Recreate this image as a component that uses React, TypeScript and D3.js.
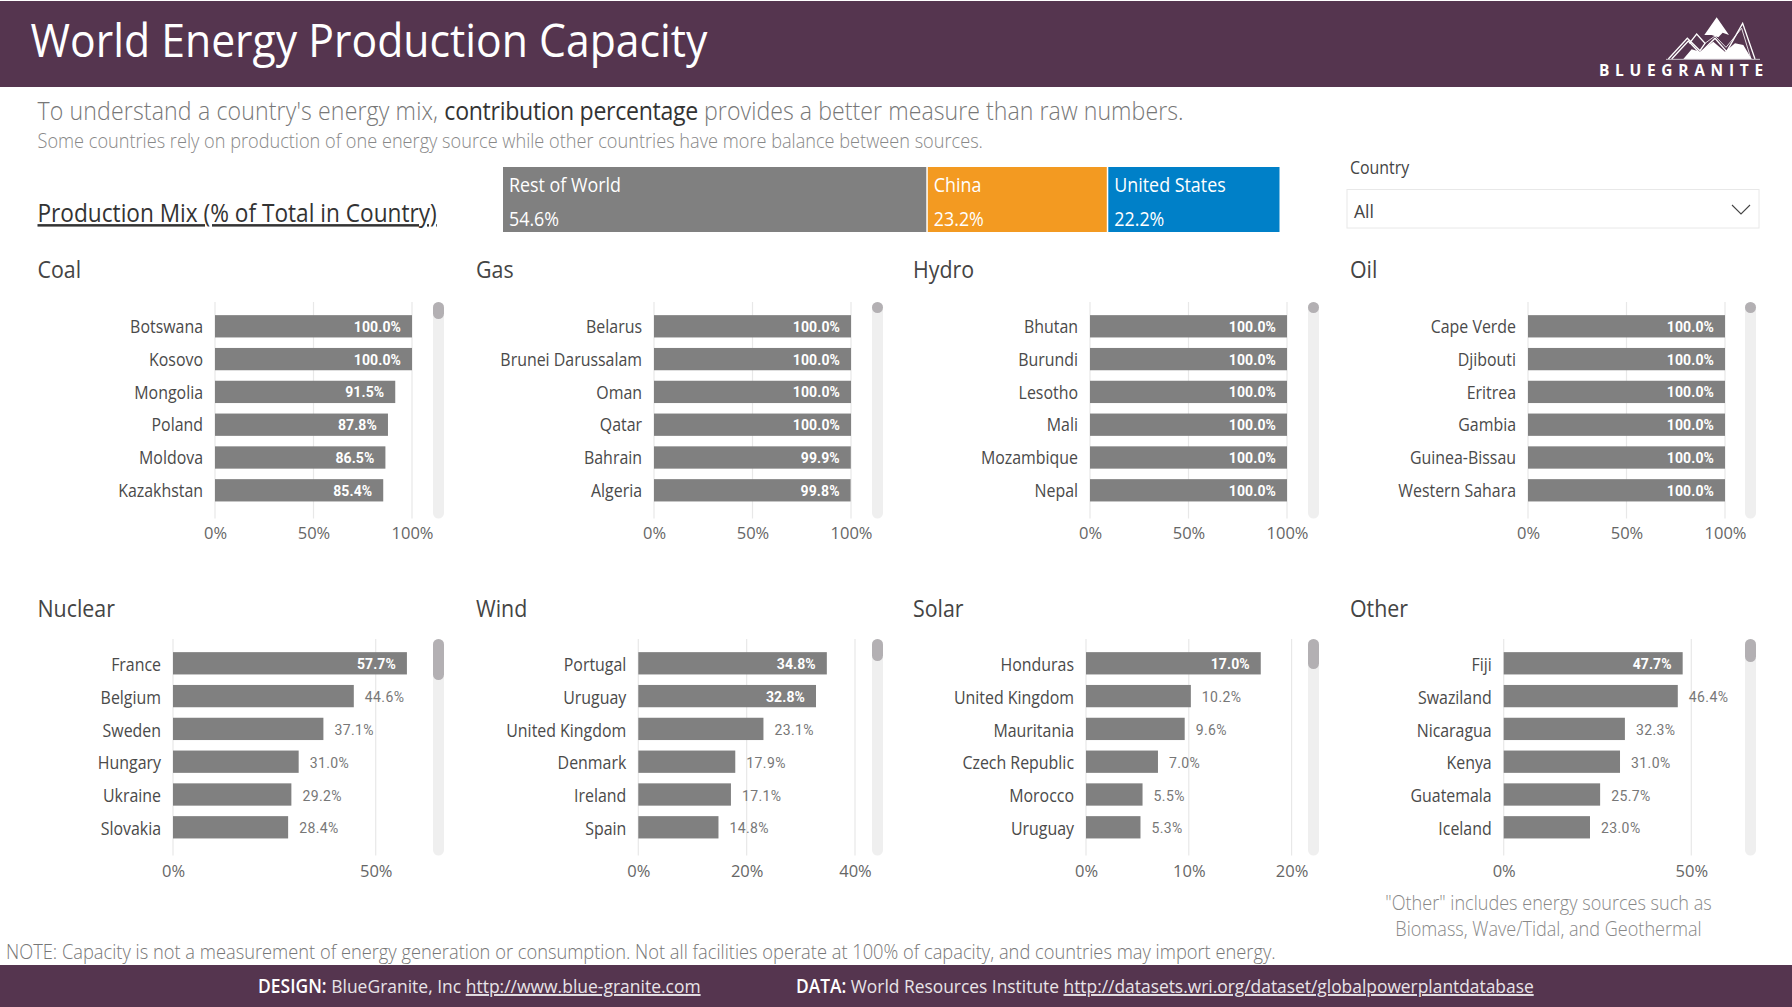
import React, { useRef, useEffect } from 'react';
import * as d3 from 'd3';

const coalCountries = ['Botswana', 'Kosovo', 'Mongolia', 'Poland', 'Moldova', 'Kazakhstan'];
const coalValues = [100, 100, 91.5, 87.8, 86.5, 85.4];
const gasCountries = ['Belarus', 'Brunei Darussalam', 'Oman', 'Qatar', 'Bahrain', 'Algeria'];
const gasValues = [100, 100, 100, 100, 99.9, 99.8];
const hydroCountries = ['Bhutan', 'Burundi', 'Lesotho', 'Mali', 'Mozambique', 'Nepal'];
const hydroValues = [100, 100, 100, 100, 100, 100];
const oilCountries = ['Cape Verde', 'Djibouti', 'Eritrea', 'Gambia', 'Guinea-Bissau', 'Western Sahara'];
const oilValues = [100, 100, 100, 100, 100, 100];
const nuclearCountries = ['France', 'Belgium', 'Sweden', 'Hungary', 'Ukraine', 'Slovakia'];
const nuclearValues = [57.7, 44.6, 37.1, 31.0, 29.2, 28.4];
const windCountries = ['Portugal', 'Uruguay', 'United Kingdom', 'Denmark', 'Ireland', 'Spain'];
const windValues = [34.8, 32.8, 23.1, 17.9, 17.1, 14.8];
const solarCountries = ['Honduras', 'United Kingdom', 'Mauritania', 'Czech Republic', 'Morocco', 'Uruguay'];
const solarValues = [17.0, 10.2, 9.6, 7.0, 5.5, 5.3];
const otherCountries = ['Fiji', 'Swaziland', 'Nicaragua', 'Kenya', 'Guatemala', 'Iceland'];
const otherValues = [47.7, 46.4, 32.3, 31.0, 25.7, 23.0];

const shareNames = ['Rest of World', 'China', 'United States'];
const shareValues = [54.6, 23.2, 22.2];
const shareColors = ['#808080', '#F39A21', '#0080C8'];

const FONT = "'Open Sans', 'Noto Sans', sans-serif";
const BAND = '#55354F';

// Open Sans runs wider than the original's font, so text gets squeezed a bit
const Squeezed: React.FC<any> = ({ x, y, sx, children, ...rest }) => (
  <text transform={`translate(${x},${y}) scale(${sx},1)`} {...rest}>{children}</text>
);

interface PanelProps {
  title: string;
  titleX: number;
  countries: string[];
  values: number[];
  ticks: number[];
  x0: number;
  xTick: number; // pixel position of last tick
  top: number;
  scrollX: number;
  thumb: number;
  inside: number; // how many labels sit inside the bar
  textDy?: number;
}

const BarPanel: React.FC<PanelProps> = ({ title, titleX, countries, values, ticks, x0, xTick, top, scrollX, thumb, inside, textDy = 0 }) => {
  const ref = useRef<SVGGElement | null>(null);

  useEffect(() => {
    if (!ref.current) return;
    const g = d3.select(ref.current);
    g.selectAll('*').remove();

    const bottom = top + 216.5;
    const x = d3.scaleLinear().domain([0, ticks[ticks.length - 1]]).range([x0, xTick]);
    const y = d3.scaleBand<string>()
      .domain(countries.map((_, i) => String(i)))
      .range([top + 7.9, top + 7.9 + 6 * 32.8])
      .paddingInner(0.32)
      .paddingOuter(0.16);

    g.append('text')
      .attr('transform', `translate(${titleX},${top - 24 + textDy * 1.5}) scale(0.93,1)`)
      .attr('font-size', 23)
      .attr('fill', '#444')
      .text(title);

    // gridlines
    g.selectAll('line.grid')
      .data(ticks)
      .join('line')
      .attr('class', 'grid')
      .attr('x1', d => x(d)).attr('x2', d => x(d))
      .attr('y1', top).attr('y2', bottom)
      .attr('stroke', '#e8e8e8')
      .attr('stroke-width', 1.2);

    // scrollbar
    g.append('rect')
      .attr('x', scrollX).attr('y', top).attr('width', 11).attr('height', bottom - top)
      .attr('rx', 5.5).attr('fill', '#efefef');
    g.append('rect')
      .attr('x', scrollX).attr('y', top).attr('width', 11).attr('height', thumb)
      .attr('rx', 5.5).attr('fill', '#b3b0b3');

    // bars
    g.selectAll('rect.bar')
      .data(values)
      .join('rect')
      .attr('class', 'bar')
      .attr('x', x0)
      .attr('y', (_, i) => y(String(i)) as number)
      .attr('width', d => x(d) - x0)
      .attr('height', y.bandwidth())
      .attr('fill', '#808080');

    // value labels
    g.selectAll('text.val')
      .data(values)
      .join('text')
      .attr('class', 'val')
      .attr('x', (d, i) => (i < inside ? x(d) - 11 : x(d) + 11))
      .attr('y', (_, i) => (y(String(i)) as number) + y.bandwidth() / 2 + 5.5 + textDy / 2)
      .attr('text-anchor', (_, i) => (i < inside ? 'end' : 'start'))
      .attr('font-family', 'Roboto, sans-serif')
      .attr('font-size', 14)
      .attr('font-weight', (_, i) => (i < inside ? 700 : 400))
      .attr('letter-spacing', (_, i) => (i < inside ? 0.1 : 0.4))
      .attr('fill', (_, i) => (i < inside ? '#fff' : '#777'))
      .text(d => d.toFixed(1) + '%');

    // country labels
    const labelSx = 0.91;
    const yAxis = g.append('g')
      .attr('transform', `translate(${x0},${1 + textDy})`)
      .call(
        d3.axisLeft(y).tickSize(0).tickPadding(12).tickFormat((_, i) => countries[i])
      );
    yAxis.select('.domain').remove();
    yAxis.selectAll('text')
      .attr('x', -12 / labelSx)
      .attr('transform', `scale(${labelSx},1)`)
      .attr('font-family', FONT)
      .attr('font-size', 17.5)
      .attr('fill', '#4a4a4a');

    // value axis
    const xAxis = g.append('g')
      .attr('transform', `translate(0,${bottom + textDy})`)
      .call(
        d3.axisBottom(x).tickValues(ticks).tickSize(0).tickPadding(9).tickFormat(d => `${d}%`)
      );
    xAxis.select('.domain').remove();
    xAxis.selectAll('text').attr('font-family', FONT).attr('font-size', 16.5).attr('fill', '#666');
  }, []);

  return <g ref={ref} fontFamily={FONT} />;
};

const ShareBar: React.FC = () => {
  const ref = useRef<SVGGElement | null>(null);

  useEffect(() => {
    if (!ref.current) return;
    const g = d3.select(ref.current);
    g.selectAll('*').remove();
    const x = d3.scaleLinear().domain([0, d3.sum(shareValues)]).range([503, 1281]);
    const starts = d3.cumsum([0, ...shareValues]);
    const cells = g.selectAll('g').data(shareValues).join('g');
    cells.append('rect')
      .attr('x', (_, i) => x(starts[i]))
      .attr('y', 167)
      .attr('width', (d, i) => x(starts[i] + d) - x(starts[i]) - 1.5)
      .attr('height', 65)
      .attr('fill', (_, i) => shareColors[i]);
    cells.append('text')
      .attr('transform', (_, i) => `translate(${x(starts[i]) + 6},192) scale(0.916,1)`)
      .attr('font-size', 19.5)
      .attr('fill', '#fff')
      .text((_, i) => shareNames[i]);
    cells.append('text')
      .attr('transform', (_, i) => `translate(${x(starts[i]) + 6},226) scale(0.916,1)`)
      .attr('font-size', 19.5)
      .attr('fill', '#fff')
      .text(d => d.toFixed(1) + '%');
  }, []);

  return <g ref={ref} fontFamily={FONT} />;
};

export default function App() {
  return (
    <svg
      width={1792}
      height={1007}
      style={{ position: 'absolute', left: 0, top: 0, background: '#fff' }}
      fontFamily={FONT}
    >
      {/* header */}
      <rect x={0} y={1} width={1792} height={86} fill={BAND} />
      <Squeezed x={30.5} y={57} sx={0.95} fontSize={45} fill="#fff">World Energy Production Capacity</Squeezed>

      {/* logo */}
      <g transform="translate(1650,10) scale(0.3333)" stroke="#fff" strokeWidth={4} fill="none">
        <path d="M100 147 L125 118 L150 125 L190 95 L225 125 L255 100 L280 105 L305 147 Z" fill="#fff" stroke="none" />
        <path d="M163 75 L200 22 L237 75 L218 68 L205 82 L185 75 Z" fill="#fff" stroke="none" />
        <path d="M55 147 L112 85 L150 122 L165 100 L140 72 L118 100" />
        <path d="M65 147 L115 93 L150 130 L195 85 L230 125 L278 40 L315 147" />
        <path d="M165 100 L195 78 L228 112 L275 55 L303 147" strokeWidth={2.5} />
        <path d="M48 148 L330 148" stroke="#c8c0c8" strokeWidth={3} />
      </g>
      <text x={1599} y={76} fontSize={15.5} fontWeight={700} letterSpacing={5.7} fill="#fff">BLUEGRANITE</text>

      {/* intro */}
      <Squeezed x={37.5} y={120} sx={0.925} fontSize={25} fill="#777" fontWeight={300}>
        <tspan letterSpacing={0.135}>To understand a country's energy mix, </tspan>
        <tspan fill="#333" fontWeight={400} letterSpacing={-0.33}>contribution percentage</tspan>
        <tspan letterSpacing={0.05}> provides a better measure than raw numbers.</tspan>
      </Squeezed>
      <Squeezed x={37.5} y={148} sx={0.932} fontSize={19.5} fill="#888" fontWeight={300}>
        Some countries rely on production of one energy source while other countries have more balance between sources.
      </Squeezed>
      <Squeezed x={37.5} y={222} sx={0.906} fontSize={25} fill="#333" textDecoration="underline">Production Mix (% of Total in Country)</Squeezed>

      <ShareBar />

      {/* slicer */}
      <Squeezed x={1350} y={174} sx={0.91} fontSize={17.5} fill="#444">Country</Squeezed>
      <rect x={1347} y={189.5} width={412} height={38.5} fill="#fff" stroke="#e8e8e8" />
      <Squeezed x={1354} y={218} sx={0.95} fontSize={18.5} fill="#444">All</Squeezed>
      <path d="M1732 205 L1741 214 L1750 205" fill="none" stroke="#444" strokeWidth={1.1} />

      <BarPanel title="Coal" titleX={37.5} countries={coalCountries} values={coalValues} ticks={[0, 50, 100]} x0={215} xTick={412} top={302} scrollX={433} thumb={17} inside={6} />
      <BarPanel title="Gas" titleX={476} countries={gasCountries} values={gasValues} ticks={[0, 50, 100]} x0={654} xTick={851} top={302} scrollX={872} thumb={11} inside={6} />
      <BarPanel title="Hydro" titleX={913} countries={hydroCountries} values={hydroValues} ticks={[0, 50, 100]} x0={1090} xTick={1287} top={302} scrollX={1308} thumb={11} inside={6} />
      <BarPanel title="Oil" titleX={1350} countries={oilCountries} values={oilValues} ticks={[0, 50, 100]} x0={1528} xTick={1725} top={302} scrollX={1745} thumb={11} inside={6} />

      <BarPanel title="Nuclear" titleX={37.5} countries={nuclearCountries} values={nuclearValues} ticks={[0, 50]} x0={173} xTick={375.7} top={639} scrollX={433} thumb={41} inside={1} textDy={1} />
      <BarPanel title="Wind" titleX={476} countries={windCountries} values={windValues} ticks={[0, 20, 40]} x0={638.3} xTick={855} top={639} scrollX={872} thumb={22} inside={2} textDy={1} />
      <BarPanel title="Solar" titleX={913} countries={solarCountries} values={solarValues} ticks={[0, 10, 20]} x0={1086} xTick={1291.6} top={639} scrollX={1308} thumb={30} inside={1} textDy={1} />
      <BarPanel title="Other" titleX={1350} countries={otherCountries} values={otherValues} ticks={[0, 50]} x0={1503.7} xTick={1691.3} top={639} scrollX={1745} thumb={23} inside={1} textDy={1} />

      <Squeezed x={1548.5} y={910} sx={0.928} fontSize={19.5} fill="#888" textAnchor="middle" fontWeight={300}>"Other" includes energy sources such as</Squeezed>
      <Squeezed x={1548.5} y={936} sx={0.928} fontSize={19.5} fill="#888" textAnchor="middle" fontWeight={300}>Biomass, Wave/Tidal, and Geothermal</Squeezed>

      <Squeezed x={6} y={959} sx={0.938} fontSize={19.5} fill="#777" fontWeight={300}>
        NOTE: Capacity is not a measurement of energy generation or consumption. Not all facilities operate at 100% of capacity, and countries may import energy.
      </Squeezed>

      {/* footer */}
      <rect x={0} y={965} width={1792} height={42} fill={BAND} />
      <Squeezed x={258} y={993} sx={0.92} fontSize={19} fill="#e8e4e8">
        <tspan fill="#fff" fontWeight={600}>DESIGN:</tspan> BlueGranite, Inc <tspan textDecoration="underline">http://www.blue-granite.com</tspan>
      </Squeezed>
      <Squeezed x={796} y={993} sx={0.915} fontSize={19} fill="#e8e4e8">
        <tspan fill="#fff" fontWeight={600}>DATA:</tspan> World Resources Institute <tspan textDecoration="underline">http://datasets.wri.org/dataset/globalpowerplantdatabase</tspan>
      </Squeezed>
    </svg>
  );
}
